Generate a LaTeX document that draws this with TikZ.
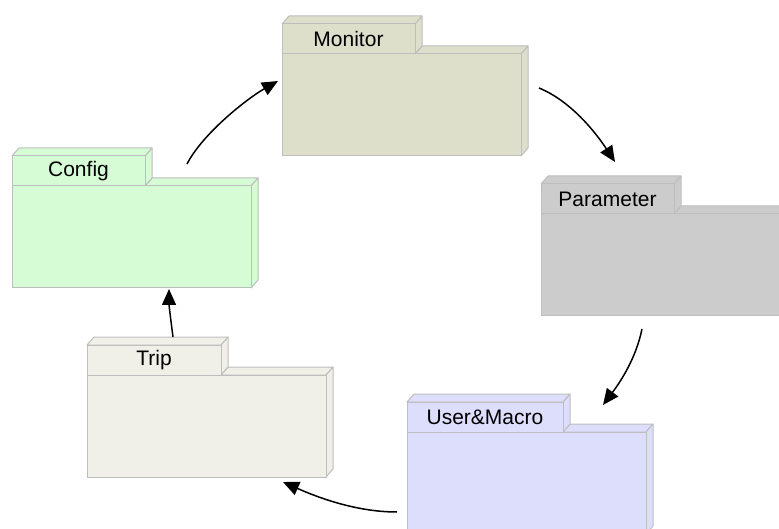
\documentclass[tikz,border=0pt]{standalone}
\usepackage{fontspec}
\setmainfont{Liberation Sans}
\usetikzlibrary{arrows.meta}
\definecolor{pkgline}{RGB}{190,190,190}
\definecolor{cMonitor}{RGB}{221,223,203}
\definecolor{cConfig}{RGB}{213,252,213}
\definecolor{cParam}{RGB}{204,204,204}
\definecolor{cUser}{RGB}{221,221,252}
\definecolor{cTrip}{RGB}{240,240,232}
\tikzset{
  pkgface/.style={draw=pkgline, line width=1pt, line join=round},
  pkgbox/.style={draw=pkgline, line width=1pt, inner sep=0pt, outer sep=0pt, anchor=north west},
  pkglabel/.style={font=\fontsize{21}{25}\selectfont, text=black},
  flow/.style={-{Triangle[length=16pt,width=14pt]}, line width=1.5pt, black}
}
\newcommand\umlpkg[6]{%
  \begin{scope}[shift={(#2,#3)}]
    \path[pkgface, fill=#5] (#4,30) -- (#4+7,22) -- (246,22) -- (239,30) -- cycle;
    \path[pkgface, fill=#5] (239,30) -- (246,22) -- (246,124) -- (239,132) -- cycle;
    \node[pkgbox, fill=#5, minimum width=239pt, minimum height=102pt] (#1) at (0,30) {};
    \path[pkgface, fill=#5] (#4,0) -- (#4+7,-8) -- (#4+7,22) -- (#4,30) -- cycle;
    \path[pkgface, fill=#5] (0,0) -- (7,-8) -- (#4+7,-8) -- (#4,0) -- cycle;
    \node[pkgbox, pkglabel, fill=#5, minimum width=#4pt, minimum height=30pt] (#1tab) at (0,0) {#6};
  \end{scope}}
\begin{document}
\begin{tikzpicture}[x=1pt,y=-1pt]
\useasboundingbox[fill=white] (0,0) rectangle (779,529);
\umlpkg{monitor}{282}{24}{133}{cMonitor}{Monitor}
\umlpkg{config}{12}{156}{133}{cConfig}{Config}
\umlpkg{param}{541}{184}{133}{cParam}{Parameter}
\umlpkg{user}{407}{402}{156}{cUser}{User\&Macro}
\umlpkg{trip}{87}{345}{134}{cTrip}{Trip}
% connector end points
\coordinate (a1s) at (187,164);
\coordinate (a1e) at (278,81);
\coordinate (a2s) at (539,88);
\coordinate (a2e) at (615,162);
\coordinate (a3s) at (642,329);
\coordinate (a3e) at (603,405);
\coordinate (a4s) at (397,512);
\coordinate (a4e) at (283,482);
\coordinate (a5s) at (173,337);
\coordinate (a5e) at (169,289);
\draw[flow] (a1s) .. controls (203,133) and (248,98) .. (a1e);
\draw[flow] (a2s) .. controls (571,101) and (596,133) .. (a2e);
\draw[flow] (a3s) .. controls (636,358) and (621,381) .. (a3e);
\draw[flow] (a4s) .. controls (357,512) and (319,498) .. (a4e);
\draw[flow] (a5s) .. controls (171,322) and (169,305) .. (a5e);
\end{tikzpicture}
\end{document}
